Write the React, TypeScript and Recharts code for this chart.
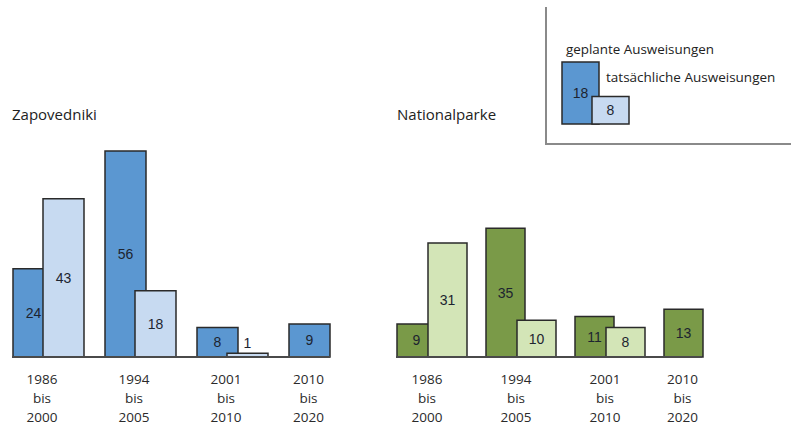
import { BarChart, Bar, XAxis, YAxis, LabelList } from 'recharts';

// Zeiträume der Ausweisungen
const periods = ['1986 bis 2000', '1994 bis 2005', '2001 bis 2010', '2010 bis 2020'];

// Zapovedniki: geplant / tatsächlich
const zapPlanned = [24, 56, 8, 9];
const zapActual: (number | null)[] = [43, 18, 1, null];

// Nationalparke: geplant / tatsächlich
const npPlanned = [9, 35, 11, 13];
const npActual: (number | null)[] = [31, 10, 8, null];

// Beispielwerte der Legende
const legendPlanned = [18];
const legendActual = [8];

const zapData = periods.map((p, i) => ({ period: p, planned: zapPlanned[i], actual: zapActual[i] }));
const npData = periods.map((p, i) => ({ period: p, planned: npPlanned[i], actual: npActual[i] }));
const legendData = legendPlanned.map((v, i) => ({ period: 'legend', planned: v, actual: legendActual[i] }));

const TEXT_FONT = '"Open Sans", "DejaVu Sans", sans-serif';
const NUM_FONT = '"Liberation Sans", Arial, sans-serif';

const BLUE_DARK = '#5b97d1';
const BLUE_LIGHT = '#c7daf1';
const GREEN_DARK = '#7a9a48';
const GREEN_LIGHT = '#d3e5b7';
const OUTLINE = '#2a2a2a';

// Label in der Mitte des Balkens, bei sehr kleinen Balken darüber
const renderValue = (props: any) => {
    const { x, y, width, height, value } = props;
    if (value == null) return null;
    const inside = height > 16;
    const cx = x + width / 2;
    const cy = inside ? y + height / 2 : y - 10;
    return (
        <text
            x={cx}
            y={cy}
            dy="0.36em"
            textAnchor="middle"
            fontFamily={NUM_FONT}
            fontSize={14}
            fill="#1d2430"
        >
            {value}
        </text>
    );
};

// Dreizeilige Achsenbeschriftung, unter der Überlappung bzw. unter dem einzelnen Balken
const makeTick = (actual: (number | null)[], band: number, barSize: number, gap: number) => {
    const offset = ((band - (2 * barSize + gap)) / 2) >> 0;
    const shiftWith = offset + barSize + gap - band / 2;
    const shiftWithout = offset + barSize / 2 - band / 2;
    return (props: any) => {
        const { x, y, payload, index } = props;
        const dx = actual[index] == null ? shiftWithout : shiftWith;
        const lines = String(payload.value).split(' ');
        return (
            <text x={x + dx} y={y} textAnchor="middle" fontFamily={TEXT_FONT} fontSize={13.5} fill="#2a2a2a">
                {lines.map((l, i) => (
                    <tspan key={i} x={x + dx} dy={i === 0 ? 25 : 19}>
                        {l}
                    </tspan>
                ))}
            </text>
        );
    };
};

const PX_PER_UNIT = 3.68;
const Y_MAX = 60;
const BASELINE = 357;

export default function App() {
    const plotH = Y_MAX * PX_PER_UNIT;
    const top = BASELINE - plotH;

    return (
        <div style={{ position: 'absolute', left: 0, top: 0, width: 793, height: 425, background: '#fff', overflow: 'hidden' }}>
            <div style={{ position: 'absolute', left: 12, top: 104, fontFamily: TEXT_FONT, fontSize: 15, color: '#222' }}>
                Zapovedniki
            </div>
            <div style={{ position: 'absolute', left: 397, top: 104, fontFamily: TEXT_FONT, fontSize: 15, color: '#222' }}>
                Nationalparke
            </div>

            {/* Zapovedniki */}
            <div style={{ position: 'absolute', left: 0, top: 0 }}>
                <BarChart
                    width={400}
                    height={425}
                    data={zapData}
                    barSize={41}
                    barGap={-11}
                    margin={{ top, right: 70, left: 12, bottom: 425 - BASELINE - 60 }}
                >
                    <XAxis
                        dataKey="period"
                        height={60}
                        padding={{ left: -10, right: -40 }}
                        tickLine={false}
                        tickSize={0}
                        axisLine={{ stroke: '#4a4a4a', strokeWidth: 2 }}
                        tick={makeTick(zapActual, 92, 41, -11)}
                        interval={0}
                    />
                    <YAxis hide domain={[0, Y_MAX]} />
                    <Bar dataKey="planned" fill={BLUE_DARK} stroke={OUTLINE} strokeWidth={1.5} isAnimationActive={false}>
                        <LabelList dataKey="planned" content={renderValue} />
                    </Bar>
                    <Bar dataKey="actual" fill={BLUE_LIGHT} stroke={OUTLINE} strokeWidth={1.5} isAnimationActive={false}>
                        <LabelList dataKey="actual" content={renderValue} />
                    </Bar>
                </BarChart>
            </div>

            {/* Nationalparke */}
            <div style={{ position: 'absolute', left: 380, top: 0 }}>
                <BarChart
                    width={413}
                    height={425}
                    data={npData}
                    barSize={39}
                    barGap={-8}
                    margin={{ top, right: 413 - 322, left: 16, bottom: 425 - BASELINE - 60 }}
                >
                    <XAxis
                        dataKey="period"
                        height={60}
                        padding={{ left: -9, right: -41 }}
                        tickLine={false}
                        tickSize={0}
                        axisLine={{ stroke: '#4a4a4a', strokeWidth: 2 }}
                        tick={makeTick(npActual, 89, 39, -8)}
                        interval={0}
                    />
                    <YAxis hide domain={[0, Y_MAX]} />
                    <Bar dataKey="planned" fill={GREEN_DARK} stroke={OUTLINE} strokeWidth={1.5} isAnimationActive={false}>
                        <LabelList dataKey="planned" content={renderValue} />
                    </Bar>
                    <Bar dataKey="actual" fill={GREEN_LIGHT} stroke={OUTLINE} strokeWidth={1.5} isAnimationActive={false}>
                        <LabelList dataKey="actual" content={renderValue} />
                    </Bar>
                </BarChart>
            </div>

            {/* Legende */}
            <div
                style={{
                    position: 'absolute',
                    left: 545,
                    top: 7,
                    width: 244,
                    height: 136,
                    borderLeft: '2px solid #8a8a8a',
                    borderBottom: '2px solid #8a8a8a',
                }}
            />
            <div style={{ position: 'absolute', left: 566, top: 40, fontFamily: TEXT_FONT, fontSize: 13.4, color: '#222', whiteSpace: 'nowrap' }}>
                geplante Ausweisungen
            </div>
            <div style={{ position: 'absolute', left: 606, top: 68, fontFamily: TEXT_FONT, fontSize: 13.5, color: '#222', whiteSpace: 'nowrap' }}>
                tatsächliche Ausweisungen
            </div>
            <div style={{ position: 'absolute', left: 551, top: 60 }}>
                <BarChart width={88} height={66} data={legendData} barSize={37} barGap={-7} margin={{ top: 2, right: 0, left: 0, bottom: 2 }}>
                    <XAxis dataKey="period" hide />
                    <YAxis hide domain={[0, 18]} />
                    <Bar dataKey="planned" fill={BLUE_DARK} stroke={OUTLINE} strokeWidth={1.5} isAnimationActive={false}>
                        <LabelList dataKey="planned" content={renderValue} />
                    </Bar>
                    <Bar dataKey="actual" fill={BLUE_LIGHT} stroke={OUTLINE} strokeWidth={1.5} isAnimationActive={false}>
                        <LabelList dataKey="actual" content={renderValue} />
                    </Bar>
                </BarChart>
            </div>
        </div>
    );
}
